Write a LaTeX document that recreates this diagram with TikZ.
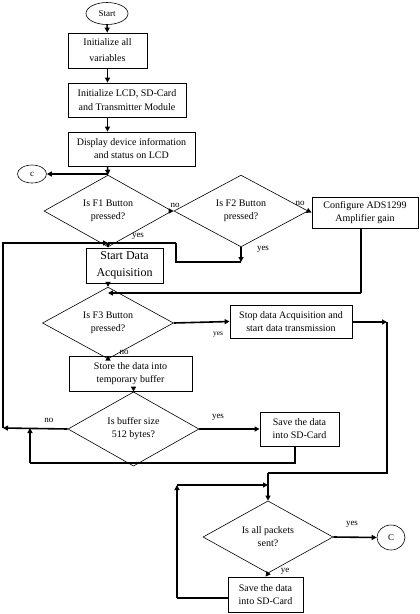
\documentclass[tikz,border=0pt]{standalone}
\usepackage{fontspec}
\setmainfont{Liberation Serif}
\usetikzlibrary{shapes.geometric,arrows.meta}
\begin{document}
\begin{tikzpicture}[x=1pt,y=-1pt,
  box/.style={draw,line width=0.8pt,inner sep=1pt,align=center,font=\fontsize{10}{13}\selectfont},
  dia/.style={draw,line width=0.6pt,diamond,inner sep=0pt,align=center,font=\fontsize{10}{13}\selectfont},
  ell/.style={draw,line width=0.6pt,ellipse,inner sep=0pt,font=\fontsize{9}{11}\selectfont},
  flow/.style={line width=1.6pt,-{Triangle[length=5pt,width=5pt]}},
  wire/.style={line width=1.6pt},
  lbl/.style={inner sep=0pt,font=\fontsize{9}{10}\selectfont}]
\useasboundingbox (0,0) rectangle (420,614);
% nodes
\node[ell,minimum width=42pt,minimum height=22pt] (start) at (107,13.5) {Start};
\node[box,minimum width=79pt,minimum height=35pt,font=\fontsize{10}{16}\selectfont] (b1) at (107.5,50.5) {Initialize all\\variables};
\node[box,minimum width=118pt,minimum height=34pt,font=\fontsize{10}{14}\selectfont] (b2) at (127,100) {Initialize LCD, SD-Card\\and Transmitter Module};
\node[box,minimum width=127pt,minimum height=34pt] (b3) at (131.5,149) {Display device information\\and status on LCD};
\node[ell,minimum width=29pt,minimum height=18pt] (c1) at (32,174) {c};
\node[dia,minimum width=128pt,minimum height=58pt] (d1) at (108,211) {Is F1 Button\\pressed?};
\node[dia,minimum width=134pt,minimum height=58pt] (d2) at (241,211) {Is F2 Button\\pressed?};
\node[box,minimum width=106pt,minimum height=31pt] (b4) at (365,212.5) {Configure ADS1299\\Amplifier gain};
\node[box,minimum width=77pt,minimum height=35pt,font=\fontsize{12}{17}\selectfont] (sd) at (124.5,265.5) {Start Data\\Acquisition};
\node[dia,minimum width=131pt,minimum height=52pt] (d3) at (108,323) {Is F3 Button\\pressed?};
\node[box,minimum width=122pt,minimum height=33pt] (b5) at (291,321.5) {Stop data Acquisition and\\start data transmission};
\node[box,minimum width=123pt,minimum height=35pt] (b6) at (130.5,373.5) {Store the data into\\temporary buffer};
\node[dia,minimum width=131pt,minimum height=58pt] (d5) at (133.5,429) {Is buffer size\\512 bytes?};
\node[box,minimum width=79pt,minimum height=34pt] (b7) at (299.5,429) {Save the data\\into SD-Card};
\node[dia,minimum width=130pt,minimum height=59pt] (d4) at (268,537) {Is all packets\\sent?};
\node[ell,minimum width=28pt,minimum height=25pt] (c2) at (391,537.5) {C};
\node[box,minimum width=75pt,minimum height=35pt] (b8) at (265.5,594.5) {Save the data\\into SD-Card};
% coordinates
\coordinate (jc) at (108,174);
\coordinate (lt) at (3,243);
\coordinate (lb) at (3,428);
\coordinate (ja) at (108,243);
\coordinate (f2y) at (241,262);
\coordinate (f2c) at (176,262);
\coordinate (f2t) at (176,243);
\coordinate (g1) at (361,293);
\coordinate (g2) at (108,293);
\coordinate (r1) at (387,322);
\coordinate (r2) at (387,473);
\coordinate (r3) at (268,473);
\coordinate (s1) at (295,463);
\coordinate (s2) at (30,463);
\coordinate (s3) at (30,428);
\coordinate (t1) at (177,598);
\coordinate (t2) at (177,485);
\coordinate (t3) at (268,485);
% connectors
\draw[flow] (start) -- (b1);
\draw[flow] (b1.south) -- (b1.south |- b2.north);
\draw[flow] (b1.south |- b2.south) -- (b1.south |- b3.north);
\draw[flow] (b1.south |- b3.south) -- (d1.north);
\draw[flow] (jc) -- (c1.east);
\draw[flow] (d1.east) -- (d2.west);
\draw[flow] (d2.east) -- (b4.west);
\draw[flow] (d1.south) -- (d1.south |- sd.north);
\draw[flow] (d2.south) -- (f2y);
\draw[wire] (f2y) -- (f2c) -- (f2t);
\draw[flow] (lb) -- (lt) -- (ja);
\draw[wire] (ja) -- (f2t);
\draw[flow] (d1.south |- sd.south) -- (d3.north);
\draw[wire] (b4.south -| g1) -- (g1);
\draw[flow] (g1) -- (g2);
\draw[flow] (d3.east) -- (b5.west);
\draw[flow] (b5.east |- r1) -- (r1);
\draw[wire] (r1) -- (r2) -- (r3);
\draw[flow] (r3) -- (d4.north);
\draw[flow] (d3.south) -- (d3.south |- b6.north);
\draw[flow] (d5.north |- b6.south) -- (d5.north);
\draw[flow] (d5.west) -- (lb);
\draw[flow] (d5.east) -- (b7.west);
\draw[wire] (b7.south -| s1) -- (s1) -- (s2);
\draw[flow] (s2) -- (s3);
\draw[flow] (d4.east) -- (c2.west);
\draw[flow] (d4.south) -- (b8.north);
\draw[wire] (b8.west |- t1) -- (t1);
\draw[flow] (t1) -- (t2);
\draw[flow] (t2) -- (t3);
% labels
\node[lbl] (l1) at (175,205) {no};
\node[lbl] (l2) at (300,203) {no};
\node[lbl] (l3) at (138,236) {yes};
\node[lbl] (l4) at (263,249) {yes};
\node[lbl,font=\fontsize{7.5}{9}\selectfont] (l5) at (218,335) {yes};
\node[lbl] (l6) at (124,352) {no};
\node[lbl] (l7) at (49,420) {no};
\node[lbl] (l8) at (218,417) {yes};
\node[lbl] (l9) at (352,524) {yes};
\node[lbl] (l10) at (285,571) {ye};
\end{tikzpicture}
\end{document}
